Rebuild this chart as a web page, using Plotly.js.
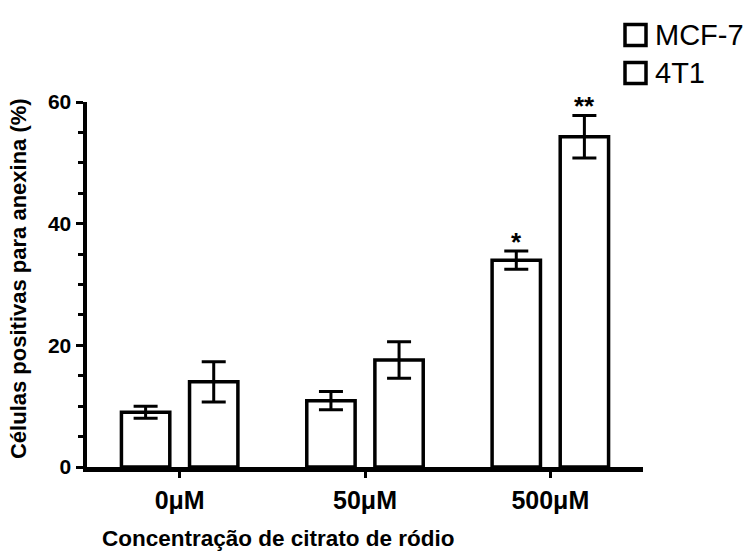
<!DOCTYPE html>
<html>
<head>
<meta charset="utf-8">
<script src="https://cdn.plot.ly/plotly-3.0.1.min.js"></script>
<style>
  html, body { margin: 0; padding: 0; background: #ffffff; }
  #chart { width: 752px; height: 551px; }
</style>
</head>
<body>
<div id="chart"></div>
<script>
// Rhodium citrate concentrations tested
const categories = ['0\u03bcM', '50\u03bcM', '500\u03bcM'];

// Annexin-positive cells (%) per cell line, mean and error
const seriesNames = ['MCF-7', '4T1'];
const mcf7Values = [9.0, 10.9, 34.0];
const mcf7Errors = [1.0, 1.5, 1.5];
const t4t1Values = [14.0, 17.6, 54.3];
const t4t1Errors = [3.3, 3.0, 3.5];

// Significance marks drawn above each bar
const mcf7Marks = ['', '', '*'];
const t4t1Marks = ['', '', '**'];

const FONT = 'Liberation Sans, Arial, Helvetica, sans-serif';
const INK = '#000000';

function barTrace(name, values, errors) {
  return {
    type: 'bar',
    name: name,
    x: categories,
    y: values,
    marker: { color: '#ffffff', line: { color: INK, width: 3.5 } },
    error_y: {
      type: 'data', array: errors, visible: true,
      color: INK, thickness: 3, width: 12
    },
    showlegend: false,
    cliponaxis: false
  };
}

const traces = [
  barTrace(seriesNames[0], mcf7Values, mcf7Errors),
  barTrace(seriesNames[1], t4t1Values, t4t1Errors)
];

// stars sit just over the top of each error bar
const annotations = [];
function addMarks(marks, values, errors, shift) {
  marks.forEach((m, i) => {
    if (!m) return;
    annotations.push({
      x: categories[i], xref: 'x', xshift: shift,
      y: values[i] + errors[i], yref: 'y', yanchor: 'bottom', yshift: -8,
      text: m, showarrow: false,
      font: { family: FONT, size: 26, color: INK, weight: 'bold' }
    });
  });
}
addMarks(mcf7Marks, mcf7Values, mcf7Errors, -34);
addMarks(t4t1Marks, t4t1Values, t4t1Errors, 34);

// axis titles
annotations.push({
  xref: 'paper', x: 0, xshift: -69, xanchor: 'center',
  yref: 'paper', y: 0.515, yanchor: 'middle',
  textangle: -90, showarrow: false,
  text: 'Células positivas para anexina (%)',
  font: { family: FONT, size: 22, color: INK, weight: 'bold' }
});
annotations.push({
  xref: 'paper', x: 0, xshift: 13, xanchor: 'left',
  yref: 'paper', y: 0, yanchor: 'top', yshift: -57,
  showarrow: false,
  text: 'Concentração de citrato de ródio',
  font: { family: FONT, size: 22.5, color: INK, weight: 'bold' }
});

// legend: open squares with labels
const legendShapes = [];
const legendRows = [67, 29];
seriesNames.forEach((name, k) => {
  legendShapes.push({
    type: 'rect', xref: 'paper', yref: 'paper',
    xsizemode: 'pixel', ysizemode: 'pixel',
    xanchor: 1, yanchor: 1,
    x0: -18, x1: 3, y0: legendRows[k] - 10.5, y1: legendRows[k] + 10.5,
    line: { color: INK, width: 3.5 }, fillcolor: '#ffffff'
  });
  annotations.push({
    xref: 'paper', x: 1, xshift: 10, xanchor: 'left',
    yref: 'paper', y: 1, yshift: legendRows[k], yanchor: 'middle',
    showarrow: false, text: name,
    font: { family: FONT, size: 29, color: INK }
  });
});

const layout = {
  width: 752,
  height: 551,
  margin: { l: 87, r: 109, t: 102, b: 84 },
  paper_bgcolor: '#ffffff',
  plot_bgcolor: '#ffffff',
  barmode: 'group',
  bargap: 0.265,
  bargroupgap: 0.29,
  showlegend: false,
  xaxis: {
    type: 'category',
    showline: true, linecolor: INK, linewidth: 4.5,
    showgrid: false, zeroline: false,
    ticks: 'outside', ticklen: 6, tickwidth: 3, tickcolor: INK,
    tickfont: { family: FONT, size: 25, color: INK, weight: 'bold' },
    ticklabelstandoff: 1
  },
  yaxis: {
    range: [0, 60],
    showline: true, linecolor: INK, linewidth: 4.5,
    showgrid: false, zeroline: false,
    tickmode: 'linear', tick0: 0, dtick: 20,
    ticks: 'outside', ticklen: 7, tickwidth: 3, tickcolor: INK,
    minor: { dtick: 5, ticklen: 5, tickwidth: 3, tickcolor: INK, ticks: 'outside' },
    tickfont: { family: FONT, size: 21, color: INK, weight: 'bold' }
  },
  shapes: legendShapes,
  annotations: annotations
};

Plotly.newPlot('chart', traces, layout, { displayModeBar: false, staticPlot: true });
</script>
</body>
</html>
